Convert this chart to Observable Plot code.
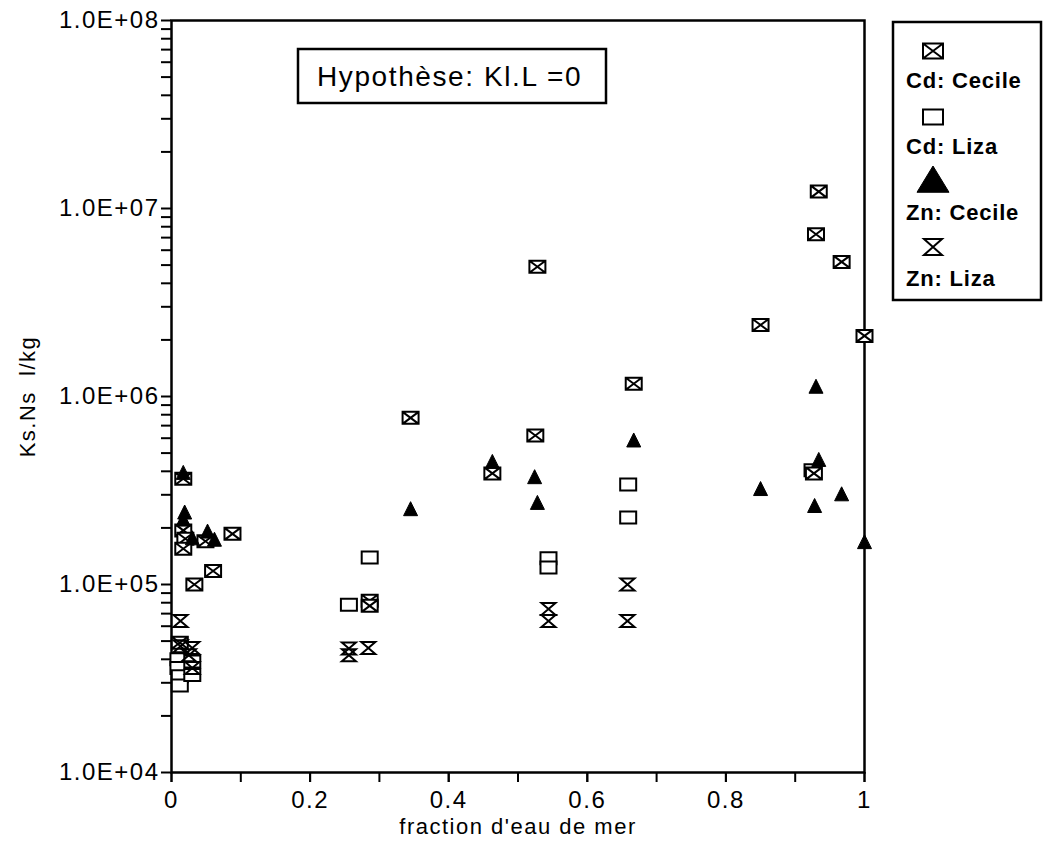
<!DOCTYPE html>
<html>
<head>
<meta charset="utf-8">
<script src="https://cdn.jsdelivr.net/npm/d3@7"></script>
<script src="https://cdn.jsdelivr.net/npm/@observablehq/plot@0.6"></script>
<style>
  html, body { margin: 0; padding: 0; background: #fff; }
  #wrap { position: relative; width: 1044px; height: 846px; font-family: "Liberation Sans", Arial, sans-serif; }
  #wrap svg.main text { letter-spacing: 1.5px; }
  #overlay { position: absolute; left: 0; top: 0; pointer-events: none; }
</style>
</head>
<body>
<div id="wrap"></div>
<script>
// ---- data (x = fraction d'eau de mer, y = Ks.Ns l/kg) ----
const cdCecile = [
  [0.017, 3.65e5], [0.017, 1.94e5], [0.020, 1.75e5], [0.017, 1.55e5],
  [0.049, 1.70e5], [0.088, 1.86e5], [0.060, 1.18e5], [0.033, 1.00e5],
  [0.012, 4.90e4], [0.345, 7.70e5], [0.463, 3.90e5], [0.525, 6.20e5],
  [0.528, 4.90e6], [0.286, 8.20e4], [0.286, 7.70e4], [0.667, 1.17e6],
  [0.850, 2.40e6], [0.930, 7.30e6], [0.934, 1.23e7], [0.967, 5.20e6],
  [1.000, 2.10e6], [0.927, 3.90e5]
];
const cdLiza = [
  [0.010, 4.00e4], [0.010, 3.60e4], [0.012, 3.25e4], [0.012, 2.90e4],
  [0.030, 3.90e4], [0.030, 3.30e4], [0.256, 7.80e4], [0.286, 1.39e5],
  [0.544, 1.38e5], [0.544, 1.23e5], [0.659, 3.40e5], [0.659, 2.27e5],
  [0.925, 4.05e5]
];
const znCecile = [
  [0.017, 3.90e5], [0.019, 2.40e5], [0.017, 2.20e5], [0.030, 1.75e5],
  [0.052, 1.90e5], [0.062, 1.72e5], [0.345, 2.50e5], [0.463, 4.46e5],
  [0.524, 3.70e5], [0.528, 2.70e5], [0.667, 5.80e5], [0.850, 3.20e5],
  [0.930, 1.12e6], [0.934, 4.57e5], [0.928, 2.60e5], [0.967, 3.00e5],
  [1.000, 1.67e5]
];
const znLiza = [
  [0.013, 6.40e4], [0.013, 4.70e4], [0.030, 4.60e4], [0.030, 3.60e4],
  [0.025, 4.20e4], [0.256, 4.57e4], [0.256, 4.20e4], [0.284, 4.60e4],
  [0.544, 7.40e4], [0.544, 6.40e4], [0.658, 1.00e5], [0.658, 6.40e4]
];
const seriesNames = ["Cd: Cecile", "Cd: Liza", "Zn: Cecile", "Zn: Liza"];
const xTickValues = [0, 0.1, 0.2, 0.3, 0.4, 0.5, 0.6, 0.7, 0.8, 0.9, 1];
const xLabelValues = [0, 0.2, 0.4, 0.6, 0.8, 1];
const xLabelTexts = ["0", "0.2", "0.4", "0.6", "0.8", "1"];
const yDecades = [1e4, 1e5, 1e6, 1e7, 1e8];
const yLabelTexts = ["1.0E+04", "1.0E+05", "1.0E+06", "1.0E+07", "1.0E+08"];
const yMantissas = [2, 3, 4, 5, 6, 7, 8, 9];
const annotation = "Hypothèse: Kl.L =0";
const xTitle = "fraction d'eau de mer";
const yTitle = "Ks.Ns\u00a0\u00a0l/kg";

// ---- custom symbols ----
function boxX(w, h) {
  return { draw(c) {
    c.moveTo(-w, -h); c.lineTo(w, -h); c.lineTo(w, h); c.lineTo(-w, h); c.closePath();
    c.moveTo(-w, -h); c.lineTo(w, h); c.moveTo(w, -h); c.lineTo(-w, h);
  }};
}
function box(w, h) {
  return { draw(c) {
    c.moveTo(-w, -h); c.lineTo(w, -h); c.lineTo(w, h); c.lineTo(-w, h); c.closePath();
  }};
}
function tri(w, h) {
  return { draw(c) {
    c.moveTo(0, -h); c.lineTo(w, h * 0.75); c.lineTo(-w, h * 0.75); c.closePath();
  }};
}
function hourglass(w, h) {
  return { draw(c) {
    c.moveTo(-w, -h); c.lineTo(w, -h); c.lineTo(-w, h); c.lineTo(w, h); c.closePath();
  }};
}

const toRows = (arr) => arr.map(([x, y]) => ({x, y}));
const yMinor = yDecades.slice(0, -1).flatMap(d => yMantissas.map(m => d * m));
const yFmt = (d) => yLabelTexts[yDecades.indexOf(d)];
const xFmt = (d) => xLabelTexts[xLabelValues.indexOf(d)];

const plot = Plot.plot({
  width: 1044,
  height: 846,
  marginLeft: 171,
  marginRight: 180,
  marginTop: 20,
  marginBottom: 74,
  className: "main",
  style: { fontFamily: "'Liberation Sans', Arial, sans-serif", color: "black", background: "white" },
  x: { domain: [0, 1] },
  y: { type: "log", domain: [1e4, 1e8] },
  marks: [
    Plot.axisX({ ticks: xTickValues, tickSize: 10, text: null, label: null, strokeWidth: 2 }),
    Plot.axisX({ ticks: xLabelValues, tickSize: 10, tickPadding: 8, fontSize: 24,
      tickFormat: xFmt, label: null, strokeWidth: 2 }),
    Plot.axisY({ ticks: yMinor, tickSize: 10, text: null, label: null, strokeWidth: 2 }),
    Plot.axisY({ ticks: yDecades, tickSize: 10, tickPadding: 2, fontSize: 24,
      tickFormat: yFmt, label: null, strokeWidth: 2 }),
    Plot.frame({ stroke: "black", strokeWidth: 2.5 }),
    Plot.dot(toRows(cdLiza), { x: "x", y: "y", symbol: box(8, 6), fill: "white", stroke: "black", strokeWidth: 2 }),
    Plot.dot(toRows(cdCecile), { x: "x", y: "y", symbol: boxX(8, 6), fill: "white", stroke: "black", strokeWidth: 2 }),
    Plot.dot(toRows(znLiza), { x: "x", y: "y", symbol: hourglass(7, 6), fill: "none", stroke: "black", strokeWidth: 2 }),
    Plot.dot(toRows(znCecile), { x: "x", y: "y", symbol: tri(7, 8), fill: "black", stroke: "black", strokeWidth: 1 }),
    Plot.text([xTitle], { frameAnchor: "bottom", dy: 54, fontSize: 22, textAnchor: "middle", lineAnchor: "middle" }),
    Plot.text([yTitle], { frameAnchor: "left", dx: -144, rotate: -90, fontSize: 22, textAnchor: "middle", lineAnchor: "middle" })
  ]
});

const wrap = document.getElementById("wrap");
wrap.appendChild(plot);

// ---- overlay: annotation box and legend ----
const ov = d3.select(wrap).append("svg").attr("id", "overlay")
  .attr("width", 1044).attr("height", 846)
  .style("font-family", "'Liberation Sans', Arial, sans-serif");

// annotation
ov.append("rect").attr("x", 298).attr("y", 49).attr("width", 308).attr("height", 54)
  .attr("fill", "white").attr("stroke", "black").attr("stroke-width", 2.5);
ov.append("text").attr("x", 317).attr("y", 76).attr("dominant-baseline", "central")
  .attr("font-size", 28).attr("letter-spacing", "1.6px").text(annotation);

// legend
ov.append("rect").attr("x", 893).attr("y", 22).attr("width", 148).attr("height", 278)
  .attr("fill", "white").attr("stroke", "black").attr("stroke-width", 2.5);
const legendSymbols = [
  { s: boxX(10, 7.5), fill: "white", sw: 2 },
  { s: box(10, 7.5), fill: "white", sw: 2 },
  { s: tri(16, 15), fill: "black", sw: 1 },
  { s: hourglass(9, 8), fill: "none", sw: 2 }
];
const legendSymY = [51, 117, 181, 247];
const legendTextY = [80, 146, 212, 278];
seriesNames.forEach((name, i) => {
  const p = d3.path();
  legendSymbols[i].s.draw(p);
  ov.append("path").attr("d", p.toString())
    .attr("transform", `translate(933,${legendSymY[i]})`)
    .attr("fill", legendSymbols[i].fill).attr("stroke", "black").attr("stroke-width", legendSymbols[i].sw);
  ov.append("text").attr("x", 906).attr("y", legendTextY[i]).attr("dominant-baseline", "central")
    .attr("font-size", 22).attr("font-weight", "bold").attr("letter-spacing", "0.8px").text(name);
});
</script>
</body>
</html>
